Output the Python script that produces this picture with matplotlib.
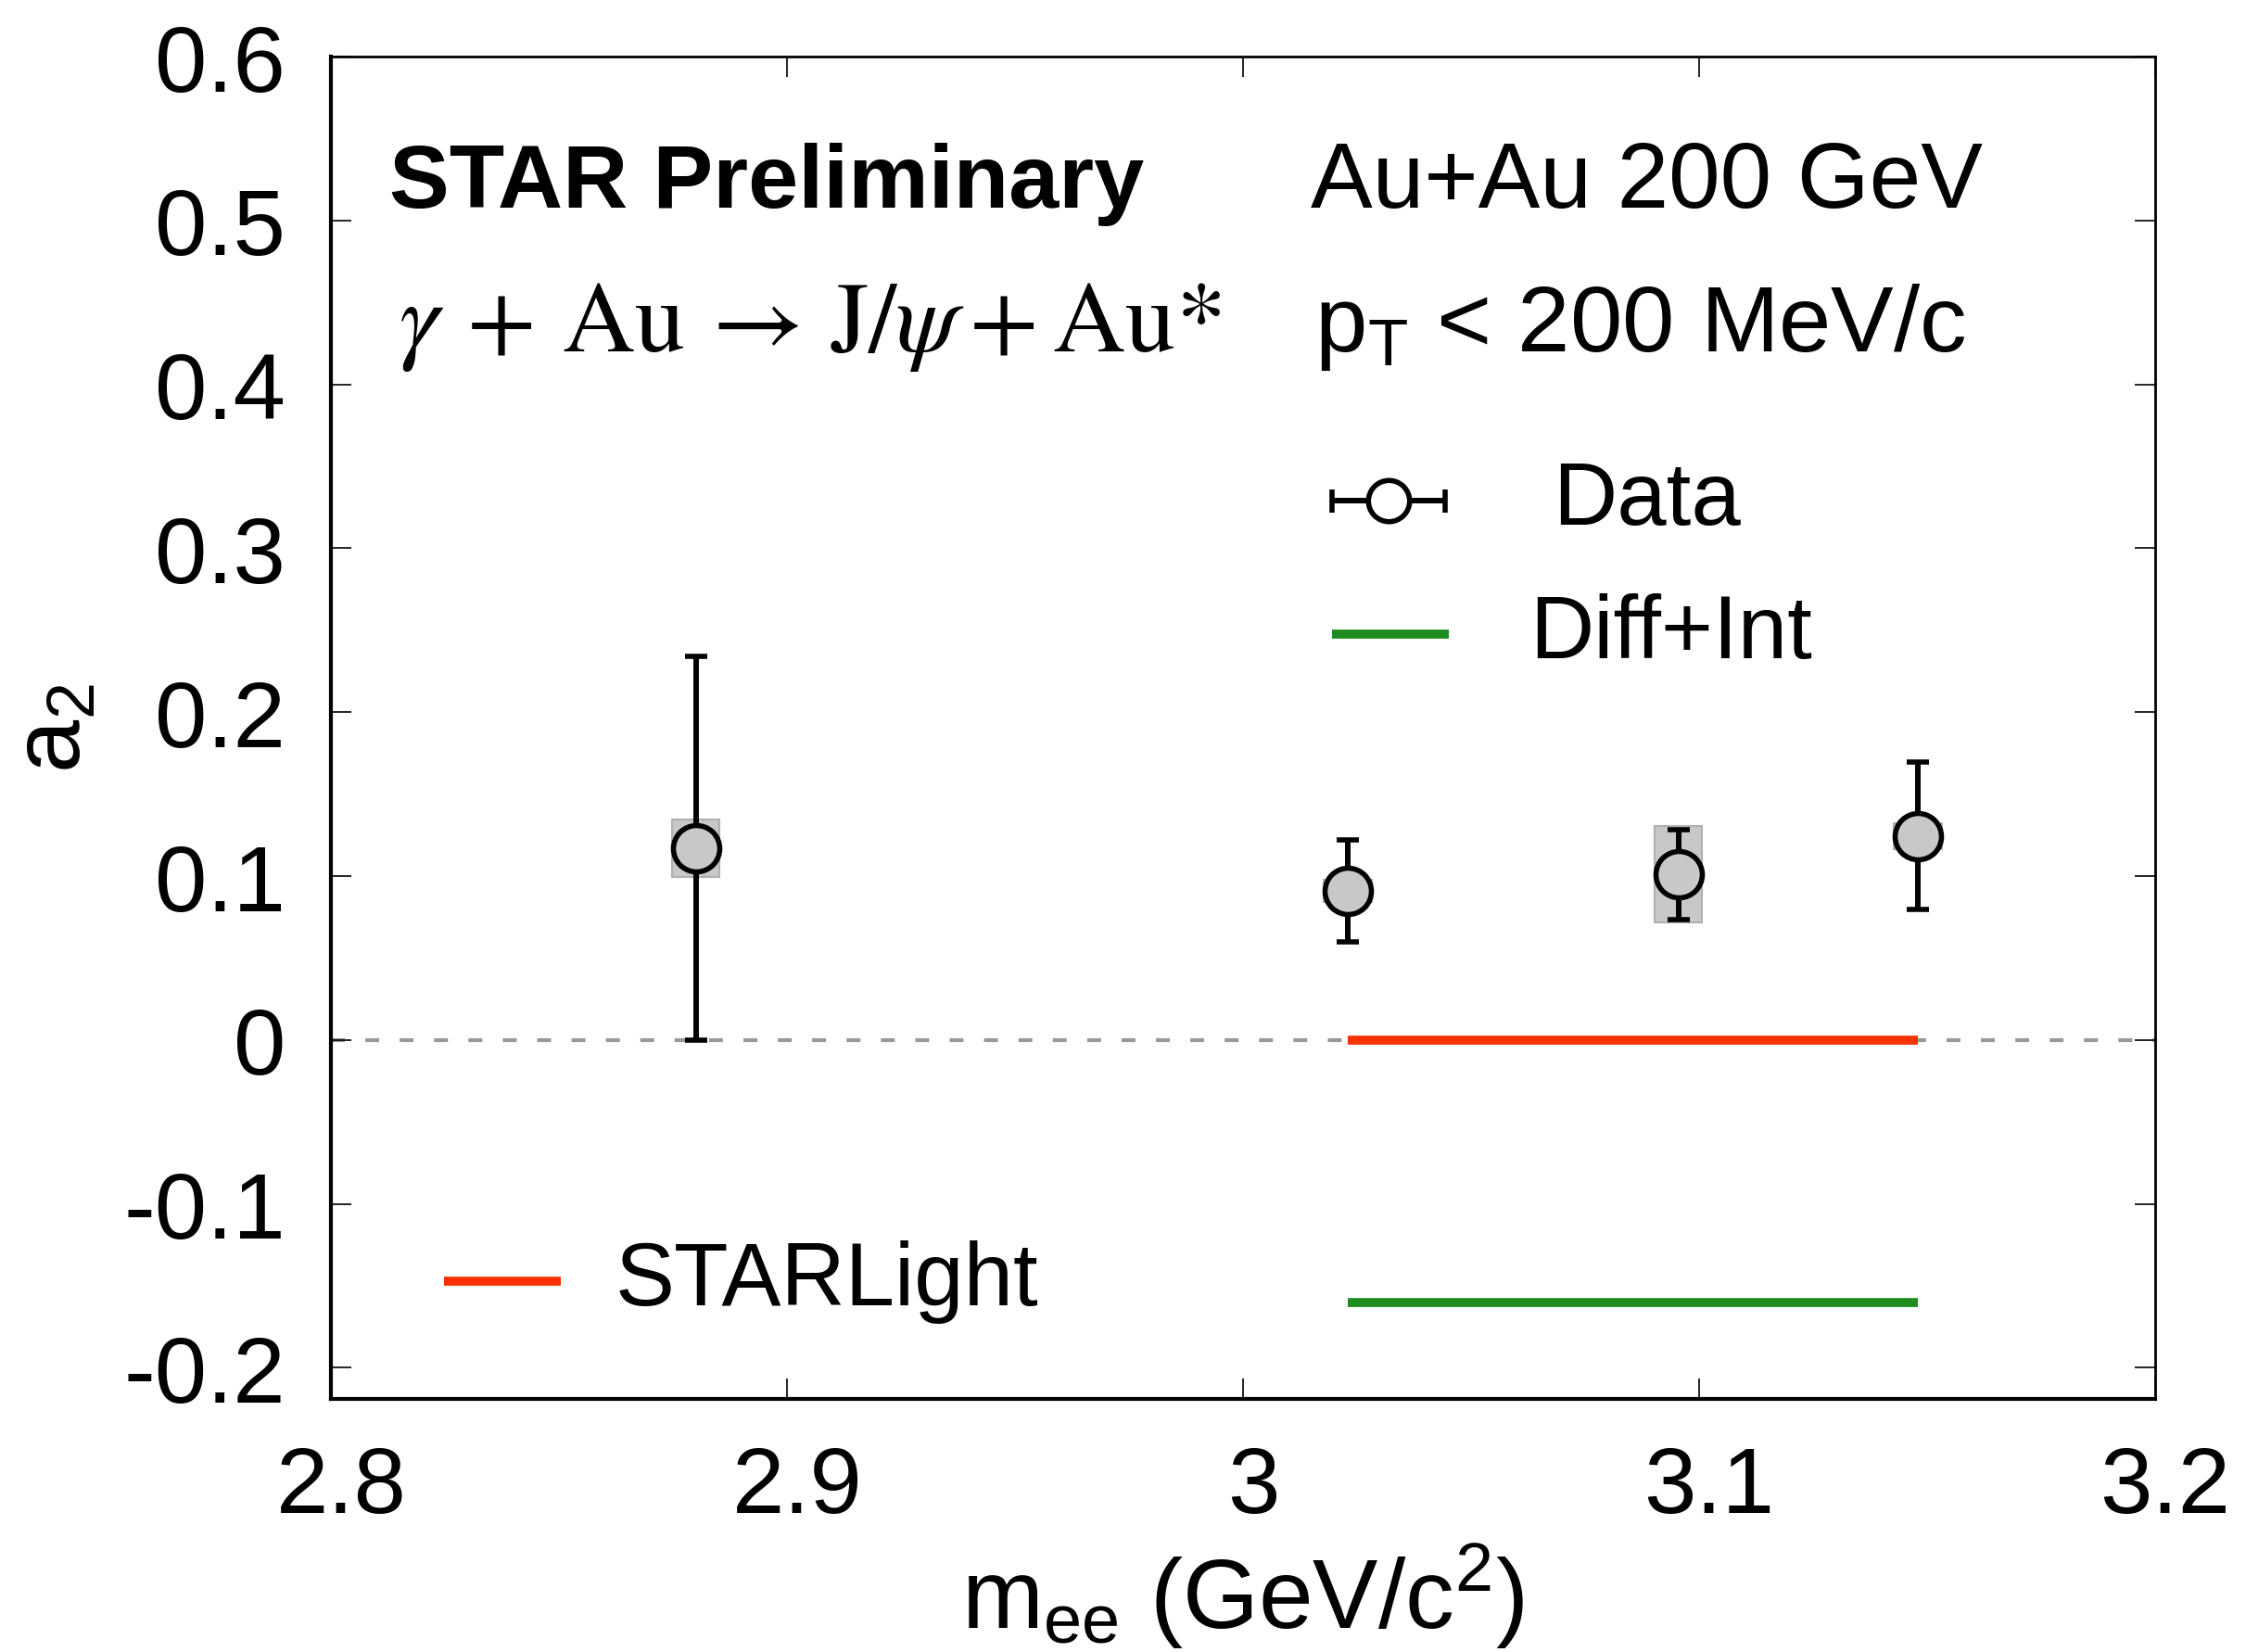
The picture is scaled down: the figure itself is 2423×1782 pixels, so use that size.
import matplotlib
matplotlib.use("Agg")
import matplotlib.pyplot as plt
from matplotlib.patches import Rectangle
from matplotlib.transforms import ScaledTranslation

# font setup: Helvetica-like text, sans mathtext by default
plt.rcParams["font.family"] = ["Liberation Sans", "DejaVu Sans"]
plt.rcParams["mathtext.fontset"] = "custom"
plt.rcParams["mathtext.rm"] = "Liberation Sans"
plt.rcParams["mathtext.it"] = "Liberation Sans:italic"
plt.rcParams["mathtext.bf"] = "Liberation Sans:bold"

# data
mass = [2.880, 3.023, 3.0955, 3.148]
a2 = [0.117, 0.091, 0.101, 0.1245]
a2_stat = [0.117, 0.031, 0.0275, 0.045]
a2_sys = [0.0175, 0.007, 0.0295, 0.008]
sys_halfwidth = 0.0052

model_mass = [3.023, 3.148]
starlight = [0.0, 0.0]
diff_int = [-0.16, -0.16]

xticks = [2.8, 2.9, 3.0, 3.1, 3.2]
xticklabels = ["2.8", "2.9", "3", "3.1", "3.2"]
yticks = [-0.2, -0.1, 0.0, 0.1, 0.2, 0.3, 0.4, 0.5, 0.6]
yticklabels = ["-0.2", "-0.1", "0", "0.1", "0.2", "0.3", "0.4", "0.5", "0.6"]

red = "#f83200"
green = "#1e8c1e"
grey_fill = "#c8c8c8"

fig = plt.figure(figsize=(24.23, 17.83), dpi=100)
ax = fig.add_axes([0.1473, 0.1531, 0.8122, 0.8121])

ax.set_xlim(2.8, 3.2)
ax.set_ylim(-0.219, 0.6)

# zero reference line
ax.axhline(0, color="#999999", lw=3, dashes=(3.6, 5.3), zorder=1)

# systematic boxes
for x, y, s in zip(mass, a2, a2_sys):
    ax.add_patch(Rectangle((x - sys_halfwidth, y - s), 2 * sys_halfwidth, 2 * s,
                           facecolor=grey_fill, edgecolor="#b0b0b0", lw=1.5, zorder=2))

# model curves
ax.plot(model_mass, starlight, color=red, lw=7, solid_capstyle="butt", zorder=3)
ax.plot(model_mass, diff_int, color=green, lw=7, solid_capstyle="butt", zorder=3)

# data points with stat errors
ax.errorbar(mass, a2, yerr=a2_stat, fmt="o", color="black", ms=36, mfc=grey_fill,
            mec="black", mew=4, elinewidth=4.3, capsize=8.3, capthick=5.8, zorder=4)

# ticks and frame
ax.set_xticks(xticks)
ax.set_xticklabels(xticklabels)
ax.set_yticks(yticks)
ax.set_yticklabels(yticklabels)
ax.tick_params(direction="in", top=True, right=True, length=16, width=1.2,
               labelsize=73, pad=35)
# x tick labels sit a little right of their ticks in the original
for lab in ax.get_xticklabels():
    lab.set_transform(lab.get_transform() + ScaledTranslation(0.11, 0, fig.dpi_scale_trans))
for side in ["left", "bottom"]:
    ax.spines[side].set_linewidth(3)
for side in ["top", "right"]:
    ax.spines[side].set_linewidth(2)

ax.set_xlabel(r"m$_{\mathrm{ee}}$ (GeV/c$^{2}$)", fontsize=76, labelpad=8)
ax.set_ylabel(r"a$_{2}$", fontsize=74, labelpad=18)

# annotations
ax.text(0.032, 0.888, "STAR Preliminary", transform=ax.transAxes, fontsize=70,
        fontweight="bold", va="baseline")
ax.text(0.537, 0.888, "Au+Au 200 GeV", transform=ax.transAxes, fontsize=72,
        va="baseline")
ax.text(0.037, 0.781,
        r"$\gamma\,+\,\mathrm{Au}\,\rightarrow\,\mathrm{J}/\psi + \mathrm{Au}$*",
        transform=ax.transAxes, fontsize=78, va="baseline", math_fontfamily="stix",
        family=["STIXGeneral", "DejaVu Serif"])
ax.text(0.539, 0.781, r"p$_{\mathrm{T}}$ < 200 MeV/c", transform=ax.transAxes,
        fontsize=73, va="baseline")

# hand-placed legend entries
ax.errorbar([0.580], [0.669], xerr=[0.031], fmt="o", color="black", ms=32, mfc="white",
            mec="black", mew=4, elinewidth=4.3, capsize=9, capthick=5.5,
            transform=ax.transAxes, clip_on=False, zorder=5)
ax.text(0.670, 0.669, "Data", transform=ax.transAxes, fontsize=69, va="center")
ax.plot([0.549, 0.613], [0.570, 0.570], color=green, lw=7, solid_capstyle="butt",
        transform=ax.transAxes)
ax.text(0.657, 0.570, "Diff+Int", transform=ax.transAxes, fontsize=69, va="center")
ax.plot([0.062, 0.126], [0.0877, 0.0877], color=red, lw=7, solid_capstyle="butt",
        transform=ax.transAxes)
ax.text(0.156, 0.0877, "STARLight", transform=ax.transAxes, fontsize=69, va="center")

fig.savefig("out.png", dpi=100)
